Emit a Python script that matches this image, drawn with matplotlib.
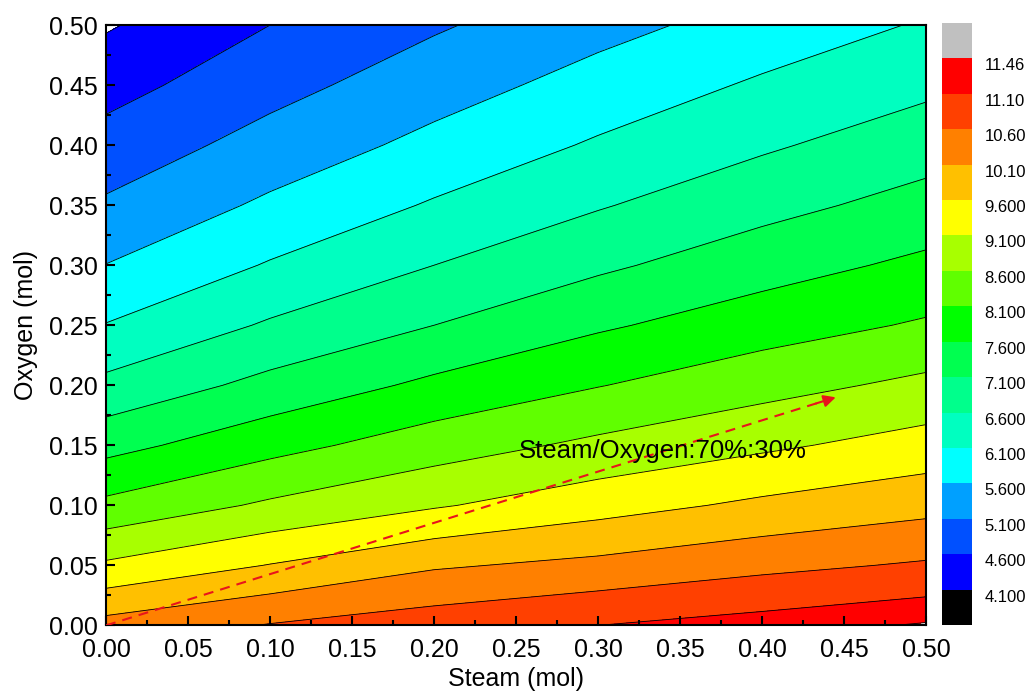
import numpy as np
import matplotlib
matplotlib.use("Agg")
import matplotlib.pyplot as plt
from matplotlib.colors import ListedColormap, BoundaryNorm
from matplotlib.cm import ScalarMappable

plt.rcParams['font.family'] = ['Liberation Sans', 'DejaVu Sans']

# grid (mol)
steam = [0.0, 0.1, 0.2, 0.3, 0.4, 0.5]
oxygen = [0.0, 0.05, 0.10, 0.15, 0.20, 0.25, 0.30, 0.35, 0.40, 0.45, 0.50]

# response along oxygen for each steam amount
z_s00 = [10.28, 9.18, 8.22, 7.43, 6.73, 6.12, 5.61, 5.17, 4.79, 4.42, 4.05]
z_s01 = [10.63, 9.62, 8.68, 7.93, 7.25, 6.66, 6.14, 5.69, 5.29, 4.93, 4.60]
z_s02 = [10.87, 10.04, 9.05, 8.36, 7.71, 7.10, 6.60, 6.15, 5.74, 5.38, 5.04]
z_s03 = [11.10, 10.23, 9.40, 8.71, 8.08, 7.53, 7.01, 6.56, 6.16, 5.79, 5.44]
z_s04 = [11.29, 10.47, 9.70, 9.01, 8.42, 7.87, 7.39, 6.94, 6.53, 6.17, 5.80]
z_s05 = [11.50, 10.66, 9.94, 9.30, 8.72, 8.16, 7.71, 7.28, 6.88, 6.49, 6.15]

levels = [4.1, 4.6, 5.1, 5.6, 6.1, 6.6, 7.1, 7.6, 8.1, 8.6, 9.1, 9.6,
          10.1, 10.6, 11.1, 11.46]
level_labels = ['4.100', '4.600', '5.100', '5.600', '6.100', '6.600', '7.100',
                '7.600', '8.100', '8.600', '9.100', '9.600', '10.10', '10.60',
                '11.10', '11.46']
band_colors = ['#0000ff', '#0050ff', '#00a0ff', '#00ffff', '#00ffc0',
               '#00ff8c', '#00ff50', '#00ff00', '#60ff00', '#a8ff00',
               '#ffff00', '#ffc000', '#ff8000', '#ff4000', '#ff0000']

# ratio path 70% steam / 30% oxygen
path_start = (0.0, 0.0)
path_end = (0.445, 0.19)

Z = np.column_stack([z_s00, z_s01, z_s02, z_s03, z_s04, z_s05])
X, Y = np.meshgrid(steam, oxygen)

cmap = ListedColormap(band_colors)
cmap.set_under('black')
cmap.set_over('#c0c0c0')
norm = BoundaryNorm(levels, cmap.N)

fig = plt.figure(figsize=(10.27, 6.98), dpi=100)
ax = fig.add_axes([0.1032, 0.1040, 0.7984, 0.8600])
cax = fig.add_axes([0.9172, 0.1046, 0.0292, 0.8625])

ax.contourf(X, Y, Z, levels=levels, cmap=cmap, norm=norm)
ax.contour(X, Y, Z, levels=levels, colors='black', linewidths=0.6)

# dashed ratio line with arrow head
ax.plot([path_start[0], path_end[0]], [path_start[1], path_end[1]],
        color='#e8141c', lw=1.5, dashes=(4.8, 3.4), zorder=5)
ax.annotate('', xy=path_end,
            xytext=(path_end[0] - 0.012, path_end[1] - 0.012 * path_end[1] / path_end[0]),
            arrowprops=dict(arrowstyle='-|>', color='#e8141c', lw=1.5,
                            mutation_scale=18, shrinkA=0, shrinkB=0), zorder=6)
ax.text(0.252, 0.145, 'Steam/Oxygen:70%:30%', fontsize=18.5,
        va='center', ha='left', zorder=7)

ax.set_xlim(0, 0.5)
ax.set_ylim(0, 0.5)
ax.set_xticks(np.arange(0, 0.501, 0.05))
ax.set_yticks(np.arange(0, 0.501, 0.05))
ax.set_xticks(np.arange(0.025, 0.5, 0.05), minor=True)
ax.set_yticks(np.arange(0.025, 0.5, 0.05), minor=True)
ax.xaxis.set_major_formatter(plt.FormatStrFormatter('%.2f'))
ax.yaxis.set_major_formatter(plt.FormatStrFormatter('%.2f'))
ax.tick_params(which='both', direction='in', width=1.5, labelsize=18,
               top=False, right=False)
ax.tick_params(which='major', length=6.5)
ax.tick_params(which='minor', length=3.5)
ax.tick_params(axis='x', which='major', pad=9)
ax.tick_params(axis='y', which='major', pad=6)
for sp in ax.spines.values():
    sp.set_linewidth(1.5)
ax.set_xlabel('Steam (mol)', fontsize=18, labelpad=4)
ax.set_ylabel('Oxygen (mol)', fontsize=18, labelpad=8)

cb = fig.colorbar(ScalarMappable(norm=norm, cmap=cmap), cax=cax,
                  extend='both', extendrect=True, extendfrac=1 / 15,
                  spacing='uniform', ticks=levels, drawedges=False)
cb.outline.set_visible(False)
cb.ax.set_yticklabels(level_labels, va='top')
cb.ax.tick_params(length=0, labelsize=12, pad=9)

fig.savefig('out.png', dpi=100)
